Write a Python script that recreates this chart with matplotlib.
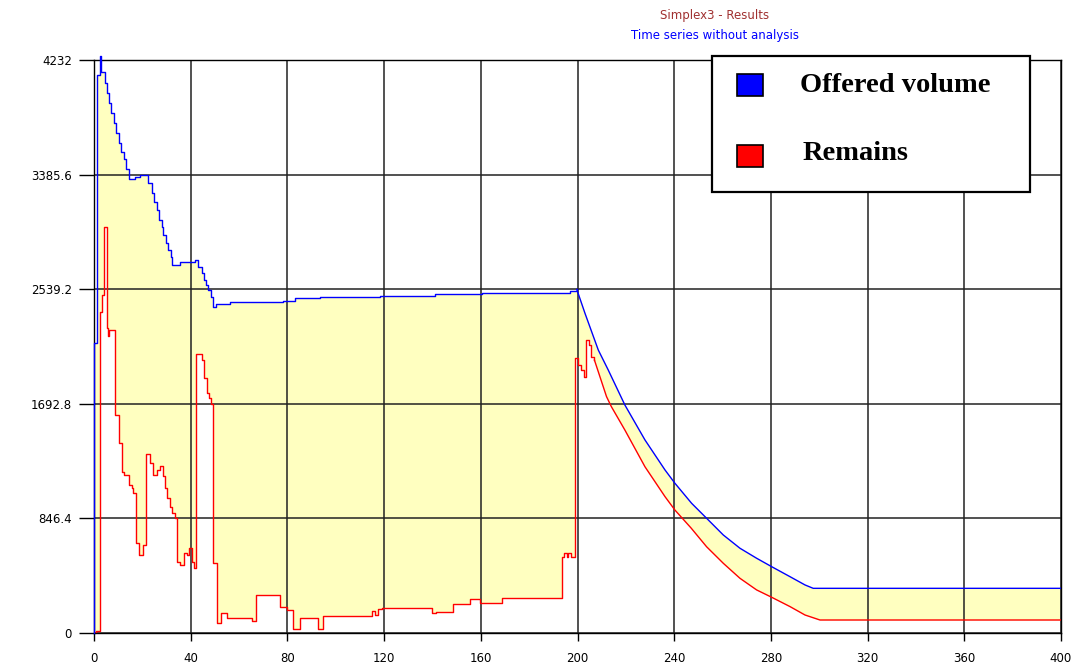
"""
Simplex3 results: offered volume vs. remaining volume over the simulation horizon.
"""

import numpy as np
import matplotlib
matplotlib.use('Agg')
import matplotlib.pyplot as plt
from matplotlib.patches import Rectangle

W, H = 1087, 668

plt.rcParams.update({
    'font.family': 'DejaVu Sans',
    'font.size': 8.5,
    'axes.linewidth': 1.0,
    'xtick.major.size': 6,
    'ytick.major.size': 11,
    'xtick.major.width': 1.0,
    'ytick.major.width': 1.0,
})

# Offered volume - stepwise part (day, value), then the smooth run-off from day ~200
offered_step_t = [0, 0, 1.2, 2.6, 3.1, 4.4, 5.4, 6.2, 7.2, 8.3, 9.2, 10.3, 11.3, 12.4,
                  13.1, 14.5, 17.0, 19.0, 22.5, 23.9, 24.8, 25.9, 26.9, 28.0, 28.7, 29.6,
                  30.7, 31.7, 32.4, 35.6, 41.8, 43.2, 44.5, 45.5, 46.5, 47.3, 48.2, 49.4,
                  50.4, 56.3, 78.3, 83.1, 93.5, 118.3, 141.0, 160.4, 196.9]
offered_step_v = [0, 2142, 4121, 4265, 4146, 4060, 3986, 3912, 3838, 3764, 3690, 3617, 3555, 3500,
                  3430, 3353, 3370, 3385, 3321, 3247, 3185, 3124, 3050, 3001, 2939, 2883,
                  2829, 2779, 2718, 2742, 2755, 2705, 2657, 2607, 2570, 2533, 2484, 2410,
                  2430, 2442, 2452, 2472, 2479, 2489, 2504, 2513, 2528]
offered_tail_t = [199.7, 203.1, 208.6, 212.7, 219.6, 227.9, 236.2, 240.3, 247.2, 254.1,
                  260.3, 267.2, 274.1, 280.3, 287.9, 294.1, 297.5, 400]
offered_tail_v = [2538, 2361, 2090, 1943, 1684, 1426, 1204, 1106, 958, 835,
                  724, 626, 552, 490, 416, 355, 330, 330]

# Remains
remains_step_t = [0, 0.8, 2.5, 3.2, 4.1, 5.2, 5.6, 6.3, 8.7, 10.5, 11.4, 12.5, 14.5, 15.6,
                  16.3, 17.2, 18.6, 20.1, 21.5, 23.2, 24.3, 26.2, 27.3, 28.7, 29.4, 30.3,
                  31.4, 32.4, 33.5, 34.5, 35.6, 37.2, 38.3, 39.4, 40.7, 41.4, 42.2, 44.5,
                  45.5, 46.6, 47.6, 48.4, 49.4, 50.7, 52.4, 54.9, 65.2, 67.0, 77.0, 79.7,
                  82.5, 85.2, 92.8, 94.6, 114.9, 116.2, 117.6, 119.0, 139.7, 141.5, 148.6,
                  155.5, 159.7, 168.6, 193.4, 194.6, 195.5, 196.0, 197.4, 199.0, 200.3,
                  201.5, 202.6, 203.4, 204.8, 205.5]
remains_step_v = [0, 15, 2373, 2496, 3001, 2250, 2193, 2238, 1610, 1401, 1191, 1167, 1093, 1071,
                  1036, 667, 576, 650, 1322, 1253, 1167, 1204, 1233, 1160, 1069, 995,
                  933, 884, 847, 527, 502, 588, 576, 630, 527, 478, 2061, 2016,
                  1881, 1770, 1733, 1689, 515, 76, 145, 108, 89, 281, 195, 170,
                  27, 108, 32, 126, 165, 133, 175, 182, 145, 157, 214,
                  249, 219, 256, 564, 593, 564, 593, 564, 2029, 1979,
                  1943, 1893, 2164, 2127, 2041]
remains_tail_t = [207.0, 212.0, 214.0, 219.6, 227.9, 236.2, 240.3, 247.0, 253.4, 260.3,
                  267.2, 274.1, 280.3, 287.9, 294.1, 300.3, 400]
remains_tail_v = [2016, 1746, 1672, 1499, 1228, 1007, 908, 775, 637, 515,
                  404, 318, 264, 195, 133, 96, 96]

x_ticks = list(range(0, 401, 40))
y_ticks = [0, 846.4, 1692.8, 2539.2, 3385.6, 4232]
y_tick_labels = ['0', '846.4', '1692.8', '2539.2', '3385.6', '4232']

BLUE = '#0000FF'
RED = '#FF0000'
FILL = '#FFFFC0'


def evaluate(t, step_t, step_v, tail_t, tail_v):
    """Value of a step + run-off series at times t (used for the shaded band)."""
    step_t = np.asarray(step_t, dtype=float)
    step_v = np.asarray(step_v, dtype=float)
    idx = np.clip(np.searchsorted(step_t, t, side='right') - 1, 0, len(step_t) - 1)
    out = step_v[idx]
    tail = t >= tail_t[0]
    out[tail] = np.interp(t[tail], tail_t, tail_v)
    return out


def fig_box(x0, y0, x1, y1):
    """Pixel box (top-left origin) -> figure fraction rectangle."""
    return x0 / W, 1 - y1 / H, (x1 - x0) / W, (y1 - y0) / H


def main():
    fig = plt.figure(figsize=(W / 100, H / 100), dpi=100)
    ax = fig.add_axes([94 / W, 1 - 633 / H, (1061 - 94) / W, (633 - 60) / H])

    # shaded band between the two series
    t = np.linspace(0, 400, 16001)
    top = evaluate(t, offered_step_t, offered_step_v, offered_tail_t, offered_tail_v)
    bot = evaluate(t, remains_step_t, remains_step_v, remains_tail_t, remains_tail_v)
    ax.fill_between(t, bot, np.minimum(top, 4232), color=FILL, linewidth=0, zorder=1)

    ax.plot(offered_step_t + offered_tail_t[:1], offered_step_v + offered_tail_v[:1],
            drawstyle='steps-post', color=BLUE, linewidth=1.0, zorder=3, clip_on=False)
    ax.plot(offered_tail_t, offered_tail_v, color=BLUE, linewidth=1.0, zorder=3)
    ax.plot(remains_step_t + remains_tail_t[:1], remains_step_v + remains_tail_v[:1],
            drawstyle='steps-post', color=RED, linewidth=1.0, zorder=4)
    ax.plot(remains_tail_t, remains_tail_v, color=RED, linewidth=1.0, zorder=4)

    ax.set_xlim(0, 400)
    ax.set_ylim(0, 4232)
    ax.set_xticks(x_ticks)
    ax.set_yticks(y_ticks)
    ax.set_yticklabels(y_tick_labels)
    ax.tick_params(axis='x', pad=8, colors='black')
    ax.tick_params(axis='y', pad=5, colors='black')
    ax.set_axisbelow('line')
    ax.grid(True, color='#222222', linewidth=1.1)
    for s in ax.spines.values():
        s.set_color('black')

    fig.text(715 / W, 1 - 15 / H, 'Simplex3 - Results', color='#A03030',
             ha='center', va='center', fontsize=8.5)
    fig.text(715 / W, 1 - 35 / H, 'Time series without analysis', color=BLUE,
             ha='center', va='center', fontsize=8.5)

    # legend box
    fig.patches.append(Rectangle(fig_box(712, 56, 1030, 192)[:2], *fig_box(712, 56, 1030, 192)[2:],
                                 transform=fig.transFigure, facecolor='white',
                                 edgecolor='black', linewidth=1.6, zorder=10))
    entries = [('Offered volume', BLUE, 85, 86, 800), ('Remains', RED, 156, 153, 803)]
    for label, color, ys, yt, xt in entries:
        x0, y0, w, h = fig_box(737, ys - 11, 763, ys + 11)
        fig.patches.append(Rectangle((x0, y0), w, h, transform=fig.transFigure,
                                     facecolor=color, edgecolor='black', linewidth=1.2, zorder=11))
        fig.text(xt / W, 1 - yt / H, label, family='Liberation Serif', weight='bold',
                 fontsize=20.5, ha='left', va='center', zorder=12)

    fig.savefig('out.png', dpi=100, facecolor='white')
    plt.close(fig)


if __name__ == '__main__':
    main()
